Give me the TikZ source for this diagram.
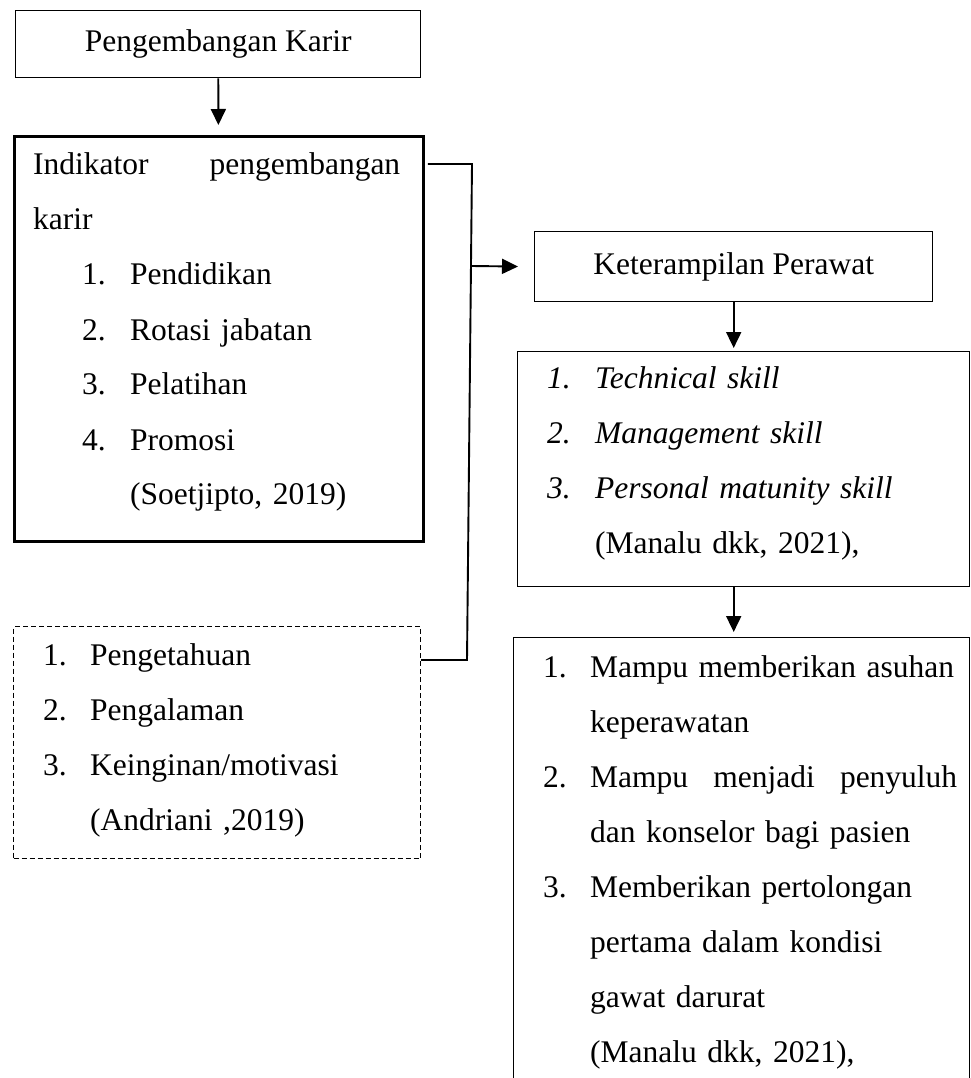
\documentclass[tikz,border=0pt]{standalone}
\usepackage{fontspec}
\setmainfont{Liberation Serif}
\usetikzlibrary{arrows.meta}

\newlength{\numindent}
\newlength{\numwidth}
\newcommand{\nitem}[1]{\hspace*{\numindent}\makebox[\numwidth][l]{#1}}
\newcommand{\cont}{\hspace*{\numindent}\hspace*{\numwidth}}

\begin{document}
\begin{tikzpicture}[x=1pt, y=-1pt,
    every node/.style = {font=\fontsize{31.5}{55}\selectfont, inner sep=0pt},
    box/.style = {draw, line width=1.4pt, anchor=north west},
    thickbox/.style = {box, line width=2.8pt},
    dashbox/.style = {box, line width=1.2pt, dash pattern=on 5pt off 3pt},
    txt/.style = {anchor=base west, align=left},
    link/.style = {line width=1.9pt},
    arr/.style = {link, -{Triangle[length=16pt, width=15pt]}}
]
    \useasboundingbox (0,0) rectangle (971,1078);
    \clip (0,0) rectangle (971,1078);

    % kotak
    \node[box, minimum width=405pt, minimum height=67pt] (karir) at (15,10)
        {Pengembangan Karir};
    \node[thickbox, minimum width=409pt, minimum height=405pt] (ind) at (13,135) {};
    \node[dashbox, minimum width=407pt, minimum height=232pt] (faktor) at (13,626) {};
    \node[box, minimum width=398pt, minimum height=70pt] (ket) at (534,231)
        {Keterampilan Perawat};
    \node[box, minimum width=452pt, minimum height=235pt] (skill) at (517,351) {};
    \node[box, minimum width=456pt, minimum height=500pt] (peran) at (513,637) {};

    % isi kotak
    \node[txt, text width=367pt] (indtxt) at (33,175) {%
        \setlength{\numindent}{49pt}\setlength{\numwidth}{48pt}%
        Indikator\hfill pengembangan\\
        karir\\
        \nitem{1.}Pendidikan\\
        \nitem{2.}Rotasi jabatan\\
        \nitem{3.}Pelatihan\\
        \nitem{4.}Promosi\\
        \cont(Soetjipto, 2019)};
    \node[txt, text width=370pt] (faktortxt) at (43,665) {%
        \setlength{\numindent}{0pt}\setlength{\numwidth}{47pt}%
        \nitem{1.}Pengetahuan\\
        \nitem{2.}Pengalaman\\
        \nitem{3.}Keinginan/motivasi\\
        \cont(Andriani ,2019)};
    \node[txt, text width=410pt] (skilltxt) at (547,388) {%
        \setlength{\numindent}{0pt}\setlength{\numwidth}{48pt}%
        \itshape\nitem{1.}Technical skill\\
        \nitem{2.}Management skill\\
        \nitem{3.}Personal matunity skill\\
        \upshape\cont(Manalu dkk, 2021),};
    \node[txt, text width=414pt] (perantxt) at (543,677) {%
        \setlength{\numindent}{0pt}\setlength{\numwidth}{47pt}%
        \nitem{1.}Mampu memberikan asuhan\\
        \cont keperawatan\\
        \nitem{2.}Mampu\hfill menjadi\hfill penyuluh\\
        \cont dan konselor bagi pasien\\
        \nitem{3.}Memberikan pertolongan\\
        \cont pertama dalam kondisi\\
        \cont gawat darurat\\
        \cont(Manalu dkk, 2021),};

    % penghubung
    \coordinate (jtop) at (472,164);
    \coordinate (jmid) at (471,266);
    \coordinate (jbot) at (467,660);
    \draw[link, shorten <=3pt] (ind.east |- jtop) -- (jtop) -- (jbot) -- (faktor.east |- jbot);
    \draw[arr, shorten >=16pt] (jmid) -- (ket.west);
    \draw[arr, shorten >=10pt] (karir) -- (ind);
    \draw[arr, shorten >=3pt] (ket.south) -- (ket.south |- skill.north);
    \draw[arr, shorten >=5pt] (ket.south |- skill.south) -- (ket.south |- peran.north);
\end{tikzpicture}
\end{document}
